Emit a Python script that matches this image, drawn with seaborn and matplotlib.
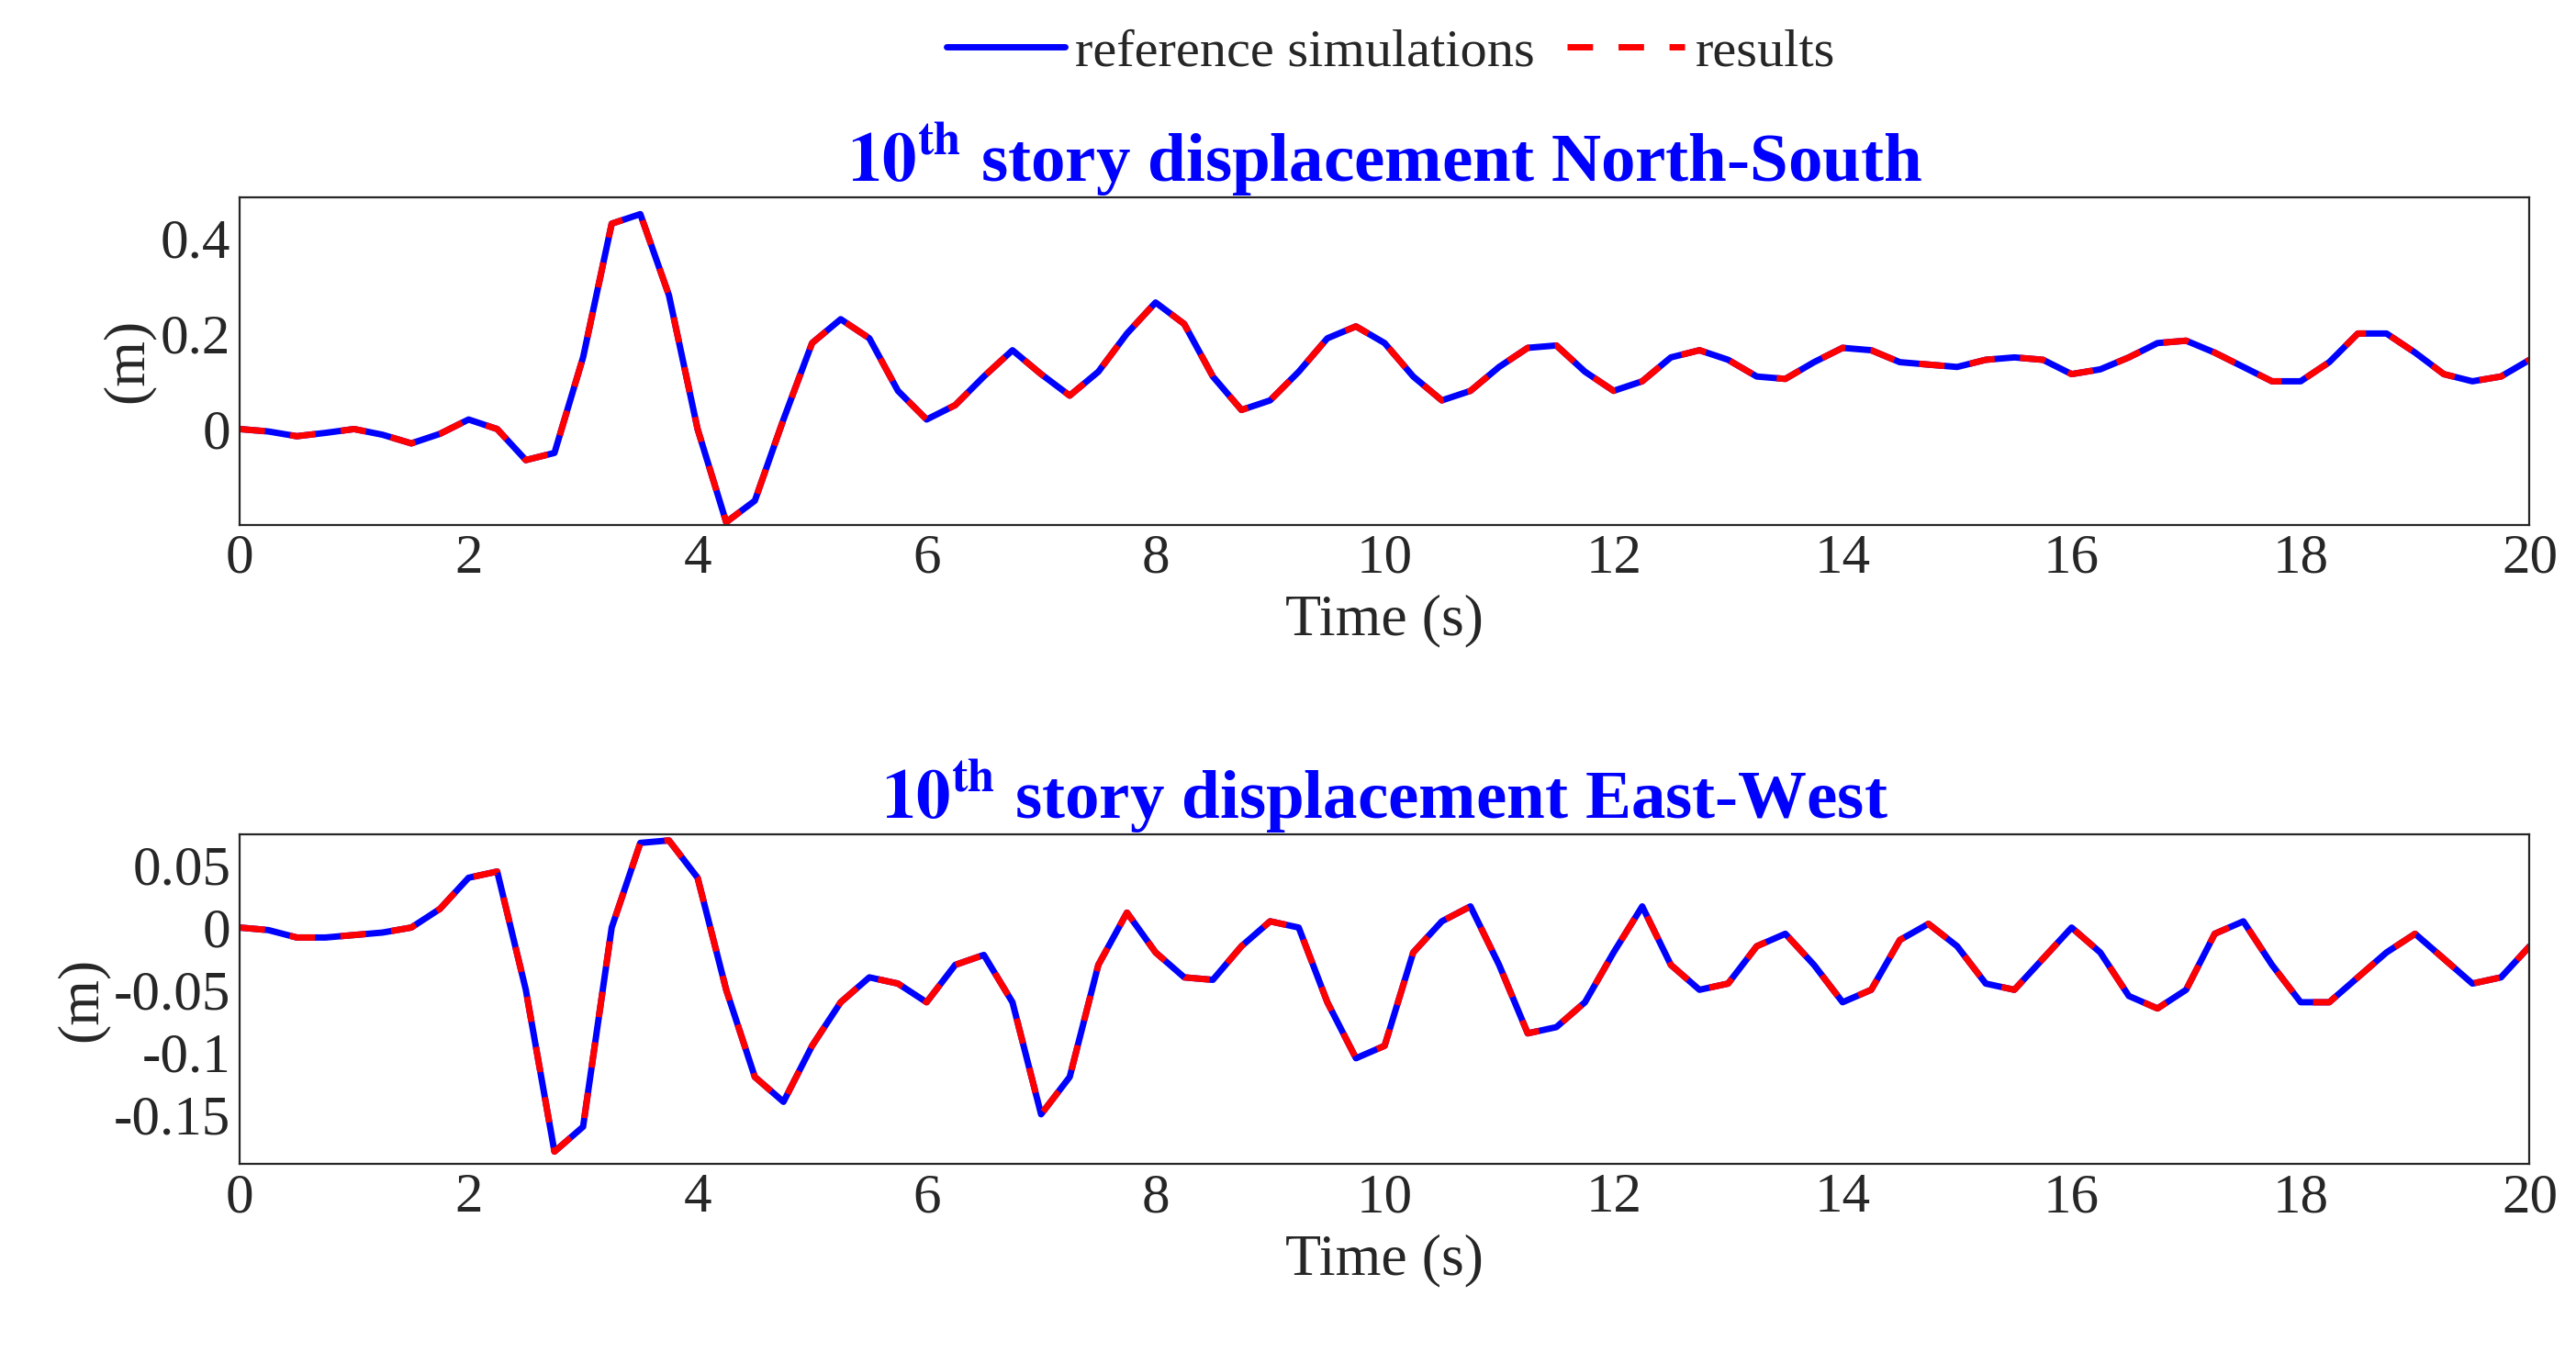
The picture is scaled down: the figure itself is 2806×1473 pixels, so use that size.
import numpy as np
import pandas as pd
import matplotlib
matplotlib.use("Agg")
import matplotlib.pyplot as plt
import seaborn as sns

time = np.arange(0, 20.001, 0.25)
ns_ref = [0, -0.005, -0.015, -0.008, 0.0, -0.012, -0.03, -0.01, 0.02, 0.0, -0.065, -0.05,
          0.15, 0.43, 0.45, 0.28, 0.0, -0.195, -0.15, 0.02, 0.18, 0.23, 0.19, 0.08,
          0.02, 0.05, 0.11, 0.165, 0.115, 0.07, 0.12, 0.2, 0.265, 0.22, 0.11, 0.04,
          0.06, 0.12, 0.19, 0.215, 0.18, 0.11, 0.06, 0.08, 0.13, 0.17, 0.175, 0.12,
          0.08, 0.1, 0.15, 0.165, 0.145, 0.11, 0.105, 0.14, 0.17, 0.165, 0.14, 0.135,
          0.13, 0.145, 0.15, 0.145, 0.115, 0.125, 0.15, 0.18, 0.185, 0.16, 0.13, 0.1,
          0.1, 0.14, 0.2, 0.2, 0.16, 0.115, 0.1, 0.11, 0.145]
ew_ref = [0, -0.002, -0.008, -0.008, -0.006, -0.004, 0.0, 0.015, 0.04, 0.045, -0.05, -0.18,
          -0.16, 0.0, 0.068, 0.07, 0.04, -0.05, -0.12, -0.14, -0.095, -0.06, -0.04, -0.045,
          -0.06, -0.03, -0.022, -0.06, -0.15, -0.12, -0.03, 0.012, -0.02, -0.04, -0.042, -0.015,
          0.005, 0.0, -0.06, -0.105, -0.095, -0.02, 0.005, 0.017, -0.03, -0.085, -0.08, -0.06,
          -0.02, 0.017, -0.03, -0.05, -0.045, -0.015, -0.005, -0.03, -0.06, -0.05, -0.01, 0.003,
          -0.015, -0.045, -0.05, -0.025, 0.0, -0.02, -0.055, -0.065, -0.05, -0.005, 0.005, -0.03,
          -0.06, -0.06, -0.04, -0.02, -0.005, -0.025, -0.045, -0.04, -0.015]
ns_res = list(ns_ref)
ew_res = list(ew_ref)

titles = ["North-South", "East-West"]

sns.set_style("white")
plt.rcParams['font.family'] = ['Liberation Serif', 'DejaVu Serif']
plt.rcParams['mathtext.fontset'] = 'stix'

fig = plt.figure(figsize=(14.03, 7.365), dpi=200)
ax1 = fig.add_axes([0.093, 0.612, 0.889, 0.242])
ax2 = fig.add_axes([0.093, 0.139, 0.889, 0.244])

for ax, ref, res, name, ylim, yt in [
        (ax1, ns_ref, ns_res, titles[0], (-0.2, 0.485), [0, 0.2, 0.4]),
        (ax2, ew_ref, ew_res, titles[1], (-0.19, 0.075), [-0.15, -0.1, -0.05, 0, 0.05])]:
    df = pd.DataFrame({"t": time, "ref": ref, "res": res})
    sns.lineplot(data=df, x="t", y="ref", ax=ax, color="blue", lw=2.5, label="reference simulations")
    sns.lineplot(data=df, x="t", y="res", ax=ax, color="red", lw=2.5, ls=(0, (4, 4)), label="results")
    ax.set_xlim(0, 20)
    ax.set_ylim(*ylim)
    ax.set_xticks(range(0, 21, 2))
    ax.set_yticks(yt)
    ax.set_yticklabels([f"{v:g}" for v in yt])
    ax.tick_params(labelsize=22, direction="in", length=5)
    ax.set_xlabel("Time (s)", fontsize=23, labelpad=4)
    ax.set_ylabel("(m)", fontsize=23, labelpad=2)
    ax.set_title(r"$\mathbf{10^{th}}$" + f" story displacement {name}", fontsize=27,
                 color="blue", fontweight="bold", pad=6)
    for s in ax.spines.values():
        s.set_linewidth(0.8)
    ax.get_legend().remove()

h, l = ax1.get_legend_handles_labels()
fig.legend(h, l, loc="upper center", bbox_to_anchor=(0.54, 1.015), ncol=2, frameon=False,
           fontsize=21, handlelength=2.2, columnspacing=0.6, handletextpad=0.2)
fig.savefig("out.png", dpi=200)
